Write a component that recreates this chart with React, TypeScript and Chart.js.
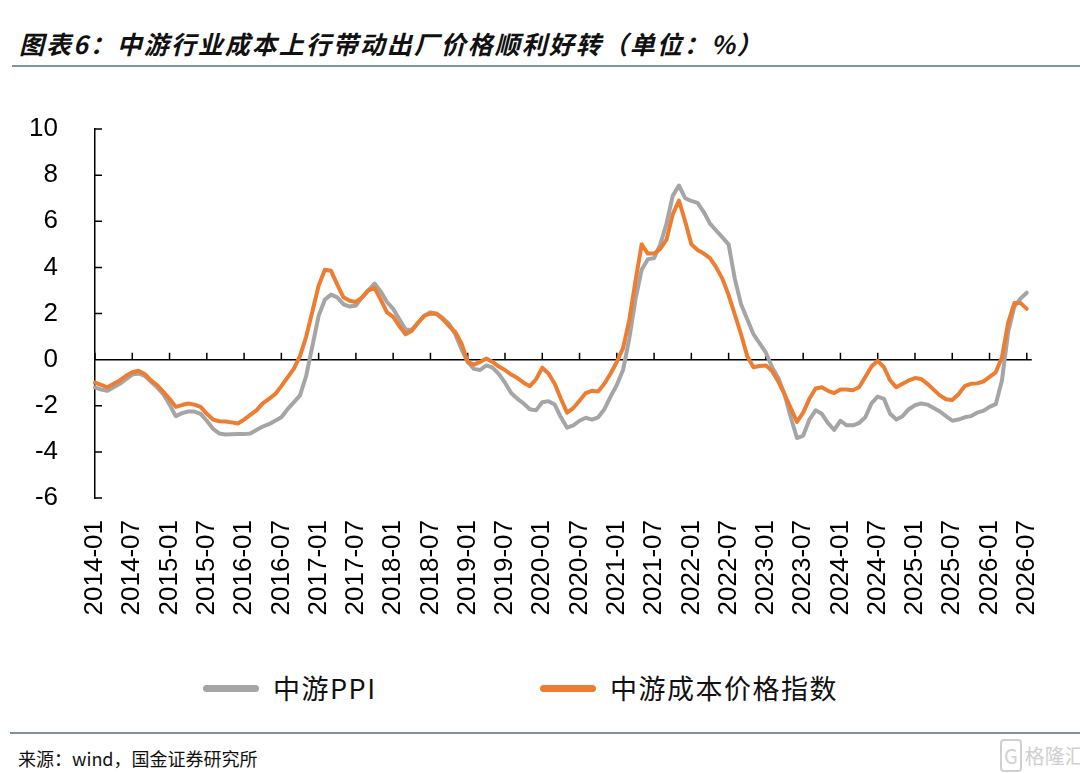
import { useEffect, useRef } from 'react'
import { Chart, registerables } from 'chart.js'

Chart.register(...registerables)

// monthly categories 2014-01 .. 2026-07
const months: string[] = []
for (let yr = 2014; yr <= 2026; yr++) {
  for (let m = 1; m <= 12; m++) {
    if (yr === 2026 && m > 7) break
    months.push(`${yr}-${String(m).padStart(2, '0')}`)
  }
}

const tickLabels = [
  '2014-01', '2014-07', '2015-01', '2015-07', '2016-01', '2016-07', '2017-01', '2017-07',
  '2018-01', '2018-07', '2019-01', '2019-07', '2020-01', '2020-07', '2021-01', '2021-07',
  '2022-01', '2022-07', '2023-01', '2023-07', '2024-01', '2024-07', '2025-01', '2025-07',
  '2026-01', '2026-07'
]

const yTicks = [-6, -4, -2, 0, 2, 4, 6, 8, 10]

const seriesNames = ['中游PPI', '中游成本价格指数']
const seriesColors = ['#A5A5A5', '#ED7D31']

// 中游PPI
const ppi = [
  -1.2, -1.3, -1.35, -1.2, -1.05, -0.85, -0.65, -0.6, -0.7, -0.95, -1.2, -1.5,
  -1.95, -2.45, -2.32, -2.25, -2.25, -2.35, -2.65, -3.0, -3.2, -3.25, -3.24, -3.23,
  -3.23, -3.2, -3.05, -2.9, -2.8, -2.65, -2.5, -2.15, -1.85, -1.55, -0.7, 0.6,
  1.9, 2.6, 2.82, 2.7, 2.4, 2.3, 2.35, 2.7, 3.0, 3.3, 2.95, 2.5,
  2.2, 1.75, 1.3, 1.3, 1.6, 1.9, 2.05, 2.0, 1.8, 1.55, 1.1, 0.45,
  -0.1, -0.4, -0.45, -0.25, -0.35, -0.62, -1.0, -1.45, -1.7, -1.9, -2.15, -2.2,
  -1.85, -1.8, -1.95, -2.5, -2.95, -2.85, -2.65, -2.52, -2.6, -2.5, -2.15, -1.6,
  -1.1, -0.45, 0.9, 2.6, 3.9, 4.35, 4.4, 5.0, 5.9, 7.1, 7.55, 7.0,
  6.88, 6.8, 6.4, 5.9, 5.6, 5.3, 5.0, 3.5, 2.4, 1.75, 1.1, 0.7,
  0.3, -0.33, -0.8, -1.5, -2.5, -3.4, -3.3, -2.6, -2.2, -2.35, -2.75, -3.05,
  -2.65, -2.85, -2.85, -2.75, -2.5, -1.9, -1.6, -1.7, -2.35, -2.6, -2.45, -2.15,
  -1.98, -1.9, -1.95, -2.1, -2.25, -2.45, -2.65, -2.6, -2.5, -2.45, -2.3, -2.22,
  -2.05, -1.93, -0.9, 1.2, 2.3, 2.65, 2.9
]

// 中游成本价格指数
const costIndex = [
  -1.0, -1.1, -1.2, -1.05, -0.9, -0.7, -0.55, -0.48, -0.62, -0.9, -1.1, -1.4,
  -1.7, -2.05, -1.97, -1.9, -1.95, -2.05, -2.35, -2.6, -2.67, -2.68, -2.72, -2.77,
  -2.6, -2.4, -2.2, -1.9, -1.7, -1.5, -1.15, -0.77, -0.4, 0.15, 1.0, 2.1,
  3.2, 3.9, 3.85, 3.25, 2.7, 2.55, 2.5, 2.7, 3.0, 3.1, 2.6, 2.05,
  1.85, 1.45, 1.1, 1.25, 1.6, 1.9, 2.0, 1.98, 1.75, 1.45, 1.2, 0.7,
  -0.1, -0.22, -0.1, 0.05, -0.1, -0.3, -0.45, -0.65, -0.8, -1.0, -1.15, -0.85,
  -0.35, -0.6, -1.05, -1.7, -2.3, -2.1, -1.78, -1.45, -1.35, -1.38, -1.05, -0.6,
  -0.1, 0.5, 1.7, 3.4, 5.0, 4.6, 4.6, 4.8, 5.2, 6.3, 6.9, 6.0,
  5.0, 4.75, 4.6, 4.4, 4.0, 3.5, 2.8, 1.95, 1.1, 0.15, -0.33, -0.28,
  -0.25, -0.5, -0.95, -1.5, -2.1, -2.7, -2.3, -1.7, -1.25, -1.2, -1.35, -1.45,
  -1.3, -1.3, -1.33, -1.2, -0.75, -0.3, -0.05, -0.33, -0.9, -1.2, -1.05, -0.9,
  -0.8, -0.84, -1.05, -1.3, -1.55, -1.72, -1.75, -1.5, -1.15, -1.05, -1.03, -0.95,
  -0.75, -0.55, 0.1, 1.6, 2.45, 2.45, 2.2
]

const axisFont = { family: '"Liberation Sans", Arial, sans-serif', size: 26 }

// zero line with half-year ticks, and inward y ticks
const axisMarks = {
  id: 'axisMarks',
  beforeDatasetsDraw(chart: any) {
    const { ctx, chartArea, scales } = chart
    const x = scales.x
    const y = scales.y
    const y0 = y.getPixelForValue(0)
    ctx.save()
    ctx.strokeStyle = '#000'
    ctx.lineWidth = 1.5
    ctx.beginPath()
    ctx.moveTo(chartArea.left, y0)
    ctx.lineTo(chartArea.right + 5, y0)
    months.forEach((m, i) => {
      if (tickLabels.includes(m)) {
        const px = x.getPixelForValue(i)
        ctx.moveTo(px, y0)
        ctx.lineTo(px, y0 - 7)
      }
    })
    yTicks.forEach(v => {
      const py = y.getPixelForValue(v)
      ctx.moveTo(chartArea.left, py)
      ctx.lineTo(chartArea.left + 7, py)
    })
    ctx.stroke()
    ctx.restore()
  }
}

function LineChart() {
  const chartRef = useRef<HTMLCanvasElement>(null)
  const chartInstance = useRef<Chart | null>(null)

  useEffect(() => {
    if (!chartRef.current) return
    if (chartInstance.current) chartInstance.current.destroy()

    chartInstance.current = new Chart(chartRef.current, {
      type: 'line',
      data: {
        labels: months,
        datasets: [
          {
            label: seriesNames[0],
            data: ppi,
            borderColor: seriesColors[0],
            backgroundColor: seriesColors[0],
            borderWidth: 4,
            pointRadius: 0,
            tension: 0,
            borderJoinStyle: 'round',
            borderCapStyle: 'round',
            order: 1
          },
          {
            label: seriesNames[1],
            data: costIndex,
            borderColor: seriesColors[1],
            backgroundColor: seriesColors[1],
            borderWidth: 4,
            pointRadius: 0,
            tension: 0,
            borderJoinStyle: 'round',
            borderCapStyle: 'round',
            order: 0
          }
        ]
      },
      options: {
        animation: false,
        responsive: true,
        maintainAspectRatio: false,
        layout: { padding: { top: 129, right: 48, left: 0, bottom: 0 } },
        plugins: {
          legend: { display: false },
          tooltip: { enabled: false }
        },
        scales: {
          x: {
            type: 'category',
            offset: false,
            grid: { display: false, drawTicks: false },
            border: { display: false },
            ticks: {
              autoSkip: false,
              maxRotation: 90,
              minRotation: 90,
              padding: 22,
              color: '#000',
              font: axisFont,
              callback: (_v: any, i: number) => (tickLabels.includes(months[i]) ? months[i] : null)
            },
            afterFit: (scale: any) => {
              scale.height = 142
            }
          },
          y: {
            min: -6,
            max: 10,
            grid: { display: false, drawTicks: false },
            border: { display: true, color: '#000', width: 1.5 },
            ticks: {
              stepSize: 2,
              padding: 37,
              color: '#000',
              font: axisFont
            },
            afterFit: (scale: any) => {
              scale.width = 95
            }
          }
        }
      },
      plugins: [axisMarks]
    } as any)

    return () => {
      if (chartInstance.current) {
        chartInstance.current.destroy()
        chartInstance.current = null
      }
    }
  }, [])

  return <canvas ref={chartRef} />
}

const legendLeft = [203, 540]

export default function App() {
  return (
    <div
      style={{
        position: 'fixed',
        left: 0,
        top: 0,
        width: 1080,
        height: 773,
        background: '#fff',
        overflow: 'hidden',
        fontFamily: '"Noto Sans CJK SC", sans-serif'
      }}
    >
      <div
        style={{
          position: 'absolute',
          left: 19,
          top: 30,
          fontSize: 25,
          lineHeight: '26px',
          fontWeight: 700,
          fontStyle: 'italic',
          letterSpacing: 2,
          color: '#111',
          whiteSpace: 'nowrap'
        }}
      >
        图表6：中游行业成本上行带动出厂价格顺利好转（单位：%）
      </div>
      <div style={{ position: 'absolute', left: 12, top: 65, width: 1068, height: 2, background: '#7d93a3' }} />

      <div style={{ position: 'absolute', left: 0, top: 0, width: 1080, height: 640 }}>
        <LineChart />
      </div>

      {seriesNames.map((name, i) => (
        <div
          key={name}
          style={{
            position: 'absolute',
            left: legendLeft[i],
            top: 670,
            height: 36,
            display: 'flex',
            alignItems: 'center',
            whiteSpace: 'nowrap'
          }}
        >
          <div style={{ width: 56, height: 7, borderRadius: 4, background: seriesColors[i] }} />
          <span style={{ marginLeft: 14, fontSize: 27, lineHeight: '36px', letterSpacing: 1.5, color: '#111' }}>{name}</span>
        </div>
      ))}

      <div style={{ position: 'absolute', left: 10, top: 732, width: 1070, height: 2, background: '#7d93a3' }} />
      <div
        style={{
          position: 'absolute',
          left: 18,
          top: 747,
          fontSize: 18,
          lineHeight: '22px',
          color: '#111',
          whiteSpace: 'nowrap'
        }}
      >
        来源：wind，国金证券研究所
      </div>
      <div
        style={{
          position: 'absolute',
          left: 1000,
          top: 744,
          fontSize: 20,
          lineHeight: '24px',
          color: '#d0d0d0',
          whiteSpace: 'nowrap'
        }}
      >
        <span style={{ border: '2px solid #d0d0d0', borderRadius: 4, padding: '0 2px', marginRight: 3 }}>G</span>
        格隆汇
      </div>
    </div>
  )
}
